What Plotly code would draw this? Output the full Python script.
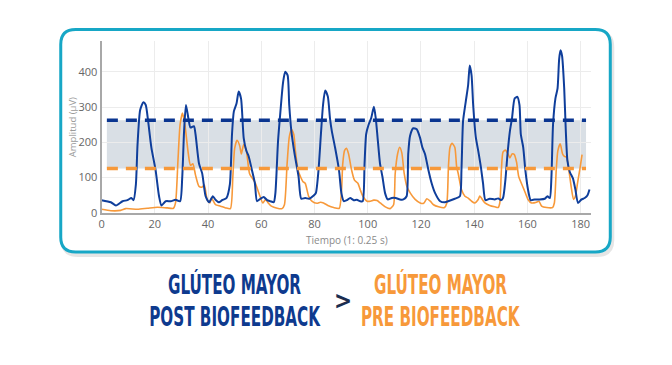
import plotly.graph_objects as go

# ---------------- data ----------------
post_x = [0, 3.5, 5.4, 7.9, 9.7, 11.2, 12, 12.9, 13.5, 14.5, 15.7, 16.6, 17.5, 18.7, 20.3, 21.6, 22.5,
          24.1, 26, 27.8, 29.5, 30.3, 31, 31.7, 32.6, 33.4, 34.7, 35.3, 36.6, 37.8, 39.1, 40.4, 41.8,
          42.8, 44.1, 45.3, 46.9, 48.2, 49, 49.7, 50.7, 51.5, 52.4, 53.4, 54.4, 55.2, 56.5, 57.6, 58.4,
          59.7, 60.9, 62.2, 63.4, 64.7, 65.3, 66.3, 67.2, 68.2, 69, 69.9, 70.5, 71.3, 72.5, 74, 75,
          76.5, 78, 79.7, 80.5, 81.5, 82.4, 83.2, 84, 85, 85.8, 86.5, 87.7, 89.2, 90.1, 91, 92.2, 93.4,
          94.7, 95.9, 97.2, 98.1, 98.8, 99.4, 100.3, 101.3, 102.3, 103, 103.8, 104.6, 105.5, 106.5,
          107.5, 109, 110.5, 112.1, 113.4, 114.6, 115.2, 115.9, 117.1, 118.4, 119.6, 120.5, 121.5,
          122.8, 124, 125.3, 127.2, 129, 130.2, 132.7, 134.6, 135.2, 135.8, 136.8, 137.7, 138.3, 139,
          139.6, 140.6, 141.5, 142.5, 143.3, 144.2, 145.8, 147.7, 149, 150, 150.8, 151.7, 152.5, 153.4,
          154.2, 155.2, 156.2, 157, 157.5, 158.4, 159.2, 160.2, 161.2, 162.7, 164.6, 166.5, 167.5,
          168.4, 169, 169.6, 170.5, 171.3, 171.9, 172.4, 173, 173.8, 174.4, 175, 175.9, 177.1, 178,
          179, 180.3, 181.5, 182.5, 183.3]
post_y = [36, 30, 21, 33, 36, 42, 36, 81, 192, 292, 314, 306, 260, 186, 121, 47, 21,
          33, 33, 37, 33, 100, 232, 306, 269, 242, 246, 223, 140, 112, 47, 30, 47,
          37, 30, 36, 42, 81, 223, 288, 310, 344, 324, 212, 176, 162, 121, 84, 33,
          40, 45, 36, 33, 30, 56, 204, 288, 371, 400, 390, 306, 232, 168, 103, 40,
          42, 40, 49, 56, 121, 223, 306, 347, 330, 269, 232, 186, 121, 56, 33, 36, 42,
          36, 37, 33, 33, 140, 223, 250, 269, 301, 269, 204, 140, 103, 56,
          38, 42, 42, 38, 38, 47, 167, 219, 240, 237, 214, 186, 167,
          121, 84, 56, 33, 30, 33, 40, 47, 121, 260, 315, 362, 418, 390,
          306, 214, 176, 130, 84, 36, 40, 38, 41, 36, 42, 93, 167, 232,
          269, 325, 329, 306, 223, 186, 121, 66, 36, 38, 38, 40, 47,
          42, 102, 250, 325, 353, 436, 461, 445, 353, 232, 148, 116, 97, 66,
          28, 38, 42, 49, 66]

pre_x = [0, 3.5, 7.2, 9.1, 13.5, 17.2, 21, 24.7, 27, 27.8, 28.7, 29.5, 30.4, 31.3, 32.6, 33.4, 34.3,
         35.3, 36.6, 37.8, 38.6, 39.7, 40.7, 41.3, 42.8, 44.7, 46.6, 48.4, 49.3, 50, 50.9, 51.9, 52.5,
         53.4, 54.4, 55.6, 57.1, 57.8, 59.1, 60.6, 61.6, 62.6, 63.8, 66, 67.8, 68.7, 69.7, 70.5, 71.3,
         72.2, 72.8, 73.8, 74.7, 75.6, 76.5, 77.8, 79, 80.9, 82.2, 83.4, 85, 87.2, 89.3, 90.1, 90.6,
         91.3, 92, 92.8, 93.8, 95, 96.3, 97.2, 98.2, 99.7, 101, 102.2, 103.5, 104.7, 106.6, 108.4,
         109.7, 110.3, 111.2, 112, 112.8, 113.7, 114.7, 116, 117.8, 119.7, 121, 122.2, 123.5, 124.7,
         126.6, 128.8, 129.7, 130.3, 130.9, 131.7, 132.7, 133.4, 134, 135.2, 136.5, 137.7, 139, 140.2,
         141.5, 142.1, 142.7, 144, 145.8, 147.7, 149, 149.6, 150.2, 150.8, 151.7, 152.7, 153.4, 154.2,
         155, 155.9, 156.7, 157.7, 158.7, 160.2, 161.5, 163.4, 164.3, 165.3, 167.2, 169.4, 170.1,
         170.8, 171.4, 172.3, 173.2, 173.9, 174.7, 175.4, 176.4, 177.3, 178, 178.8, 179.8, 180.5]
pre_y = [10, 6, 7, 12, 10, 13, 16, 14, 13, 29, 148, 250, 283, 250, 167, 135, 139,
         107, 75, 73, 79, 37, 28, 42, 23, 19, 14, 12, 100, 183, 206, 190, 167,
         194, 176, 111, 93, 84, 56, 28, 38, 28, 19, 13, 12, 23, 139, 214, 236,
         223, 177, 121, 103, 89, 84, 47, 33, 27, 30, 28, 21, 15, 13, 56, 139,
         177, 183, 167, 126, 93, 84, 65, 47, 33, 33, 36, 35, 28, 17, 12,
         23, 111, 167, 186, 170, 111, 75, 56, 38, 28, 27, 40, 33, 23,
         17, 15, 28, 130, 186, 197, 186, 130, 111, 66, 47, 42, 33, 28,
         38, 48, 42, 28, 21, 17, 15, 28, 121, 172, 178, 167, 156, 167,
         166, 144, 103, 84, 66, 38, 28, 30, 33, 19, 15, 15, 28,
         121, 176, 196, 167, 160, 158, 130, 75, 38, 47, 84, 130, 165]

thresh_post = 263
thresh_pre = 126
band_x = [2, 182]

x_ticks = [0, 20, 40, 60, 80, 100, 120, 140, 160, 180]
y_ticks = [0, 100, 200, 300, 400]

x_title = "Tiempo (1: 0.25 s)"
y_title = "Amplitud (µV)"
label_post = ["GLÚTEO MAYOR", "POST BIOFEEDBACK"]
label_pre = ["GLÚTEO MAYOR", "PRE BIOFEEDBACK"]

# ---------------- styles ----------------
BLUE = "#0f3e9b"
BLUE_DASH = "#0a3590"
ORANGE = "#f7993a"
TEAL = "#17a7c6"
W, H = 672, 365

fig = go.Figure()

fig.add_trace(go.Scatter(x=pre_x, y=pre_y, mode="lines",
                         line=dict(color=ORANGE, width=1.6, shape="spline", smoothing=0.6),
                         hoverinfo="skip", showlegend=False))
fig.add_trace(go.Scatter(x=post_x, y=post_y, mode="lines",
                         line=dict(color=BLUE, width=2, shape="spline", smoothing=0.6),
                         hoverinfo="skip", showlegend=False))
fig.add_trace(go.Scatter(x=band_x, y=[thresh_post] * 2, mode="lines",
                         line=dict(color=BLUE_DASH, width=3.5, dash="11px,8px"),
                         hoverinfo="skip", showlegend=False))
fig.add_trace(go.Scatter(x=band_x, y=[thresh_pre] * 2, mode="lines",
                         line=dict(color=ORANGE, width=3.5, dash="11px,8px"),
                         hoverinfo="skip", showlegend=False))

# shaded band
fig.add_shape(type="rect", xref="x", yref="y", x0=band_x[0], x1=band_x[1],
              y0=thresh_pre, y1=thresh_post, fillcolor="#d9dfe5", line=dict(width=0),
              layer="below")


def rounded_rect(x0, y0, x1, y1, r):
    # pixel coords -> paper coords (margins are zero)
    def px(x):
        return x / W

    def py(y):
        return 1 - y / H
    return (f"M {px(x0 + r)} {py(y0)} L {px(x1 - r)} {py(y0)} "
            f"Q {px(x1)} {py(y0)} {px(x1)} {py(y0 + r)} L {px(x1)} {py(y1 - r)} "
            f"Q {px(x1)} {py(y1)} {px(x1 - r)} {py(y1)} L {px(x0 + r)} {py(y1)} "
            f"Q {px(x0)} {py(y1)} {px(x0)} {py(y1 - r)} L {px(x0)} {py(y0 + r)} "
            f"Q {px(x0)} {py(y0)} {px(x0 + r)} {py(y0)} Z")


# card shadow + card border
fig.add_shape(type="path", xref="paper", yref="paper",
              path=rounded_rect(60, 33, 612, 260, 15),
              line=dict(color="rgba(0,0,0,0.10)", width=4), layer="below")
fig.add_shape(type="path", xref="paper", yref="paper",
              path=rounded_rect(58, 30, 610, 257, 15),
              line=dict(color=TEAL, width=3), fillcolor="white", layer="below")

fig.update_layout(
    width=W, height=H,
    margin=dict(l=0, r=0, t=0, b=0),
    paper_bgcolor="white", plot_bgcolor="rgba(0,0,0,0)",
    font=dict(family="Open Sans, Arial, sans-serif"),
    xaxis=dict(domain=[99 / W, 591 / W], range=[0, 184], tickvals=x_ticks,
               showgrid=True, gridcolor="#ececec", gridwidth=1, zeroline=False,
               showline=True, linecolor="#a8a8a8", linewidth=2, ticks="", ticklen=0,
               tickfont=dict(size=11, color="#666"), fixedrange=True),
    yaxis=dict(domain=[1 - 217 / H, 1 - 42 / H], range=[0, 487], tickvals=y_ticks,
               showgrid=True, gridcolor="#ececec", gridwidth=1, zeroline=False,
               showline=True, linecolor="#a8a8a8", linewidth=2, ticks="", ticklen=0,
               ticklabelstandoff=0,
               tickfont=dict(size=11, color="#666"), fixedrange=True),
)

fig.add_annotation(text=x_title, xref="paper", yref="paper", x=346 / W, y=1 - 245 / H,
                   xanchor="center", yanchor="middle",
                   showarrow=False, font=dict(size=10, color="#8a8a8a"))
fig.add_annotation(text=y_title, xref="paper", yref="paper", x=70 / W, y=1 - 130 / H,
                   xanchor="center", yanchor="middle",
                   textangle=-90, showarrow=False, font=dict(size=9.5, color="#9a9a9a"))

TITLE_FONT = "DejaVu Sans Condensed, Liberation Sans Narrow, Arial Narrow, sans-serif"
for i, yy in enumerate([290, 323]):
    fig.add_annotation(text=f"<b>{label_post[i]}</b>", xref="paper", yref="paper",
                       x=233 / W, y=1 - yy / H, xanchor="center", yanchor="middle",
                       showarrow=False,
                       font=dict(size=26, color="#0e3a8e", family=TITLE_FONT))
    fig.add_annotation(text=f"<b>{label_pre[i]}</b>", xref="paper", yref="paper",
                       x=439 / W, y=1 - yy / H, xanchor="center", yanchor="middle",
                       showarrow=False,
                       font=dict(size=26, color=ORANGE, family=TITLE_FONT))
fig.add_annotation(text="<b>&gt;</b>", xref="paper", yref="paper", x=342 / W, y=1 - 307 / H,
                   xanchor="center", yanchor="middle",
                   showarrow=False, font=dict(size=24, color="#1b2d4f", family=TITLE_FONT))

# page styling: no body margin, condensed look for the big labels (text stays real text)
post_script = """
document.body.style.margin = '0px';
var gd = document.getElementById('{plot_id}');
gd.querySelectorAll('g.annotation').forEach(function(g) {
  var i = +g.getAttribute('data-index');
  if (i >= 2 && i <= 5) {
    var t = g.querySelector('text');
    t.style.transformBox = 'fill-box';
    t.style.transformOrigin = 'center';
    t.style.transform = 'scaleX(0.65)';
  }
});
"""

fig.write_html("out.html", post_script=post_script, config={"displayModeBar": False})
